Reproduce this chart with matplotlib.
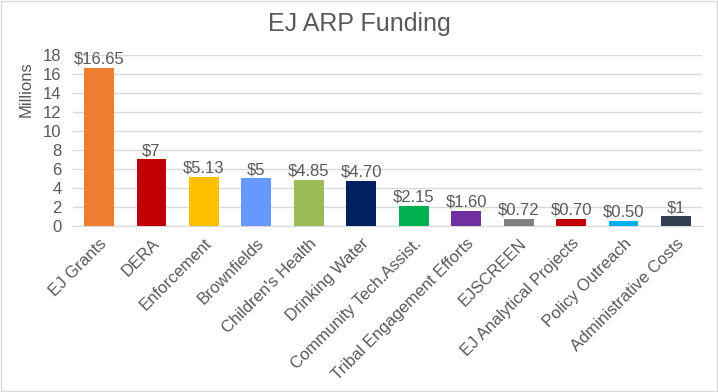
import matplotlib
matplotlib.use("Agg")
import matplotlib.pyplot as plt
from matplotlib.patches import Rectangle

categories = ["EJ Grants", "DERA", "Enforcement", "Brownfields", "Children's Health",
              "Drinking Water", "Community Tech.Assist.", "Tribal Engagement Efforts",
              "EJSCREEN", "EJ Analytical Projects", "Policy Outreach", "Administrative Costs"]
values = [16.65, 7, 5.13, 5, 4.85, 4.70, 2.15, 1.60, 0.72, 0.70, 0.50, 1]
labels = ["$16.65", "$7", "$5.13", "$5", "$4.85", "$4.70", "$2.15", "$1.60",
          "$0.72", "$0.70", "$0.50", "$1"]
colors = ["#ED7D31", "#C00000", "#FFC000", "#6699FF", "#9BBB59", "#002060",
          "#00B050", "#7030A0", "#808080", "#C00000", "#00B0F0", "#323F4F"]
yticks = [0, 2, 4, 6, 8, 10, 12, 14, 16, 18]

plt.rcParams['font.family'] = ['Liberation Sans', 'DejaVu Sans']
txt = "#595959"
fs = 12

fig = plt.figure(figsize=(7.18, 3.92), dpi=100)
ax = fig.add_axes([0.1014, 0.4235, 0.8766, 0.4362])
x = range(len(categories))
ax.bar(x, values, width=0.57, color=colors, zorder=3)
for xi, v, l in zip(x, values, labels):
    ax.text(xi, v + 0.15, l, ha='center', va='bottom', fontsize=fs, color=txt)
ax.set_xlim(-0.5, len(categories) - 0.5)
ax.set_ylim(0, 18)
ax.set_yticks(yticks)
ax.set_yticklabels([str(t) for t in yticks], fontsize=fs, color=txt)
ax.set_xticks(list(x))
ax.set_xticklabels(categories, rotation=45, ha='right', rotation_mode='anchor',
                   fontsize=fs, color=txt)
ax.tick_params(axis='y', length=0, pad=8)
ax.tick_params(axis='x', length=0, pad=7)
ax.grid(axis='y', color='#D9D9D9', linewidth=1, zorder=0)
for s in ['top', 'right', 'left']:
    ax.spines[s].set_visible(False)
ax.spines['bottom'].set_color('#D9D9D9')
ax.set_ylabel("Millions", fontsize=fs, color=txt)
ax.yaxis.set_label_coords(-0.062, 0.80)
fig.text(0.5, 0.94, "EJ ARP Funding", ha='center', va='center', fontsize=18, color=txt)
fig.patches.append(Rectangle((0.001, 0.002), 0.997, 0.995, transform=fig.transFigure,
                             fill=False, edgecolor='#D9D9D9', linewidth=1))
fig.savefig("out.png", dpi=100)
